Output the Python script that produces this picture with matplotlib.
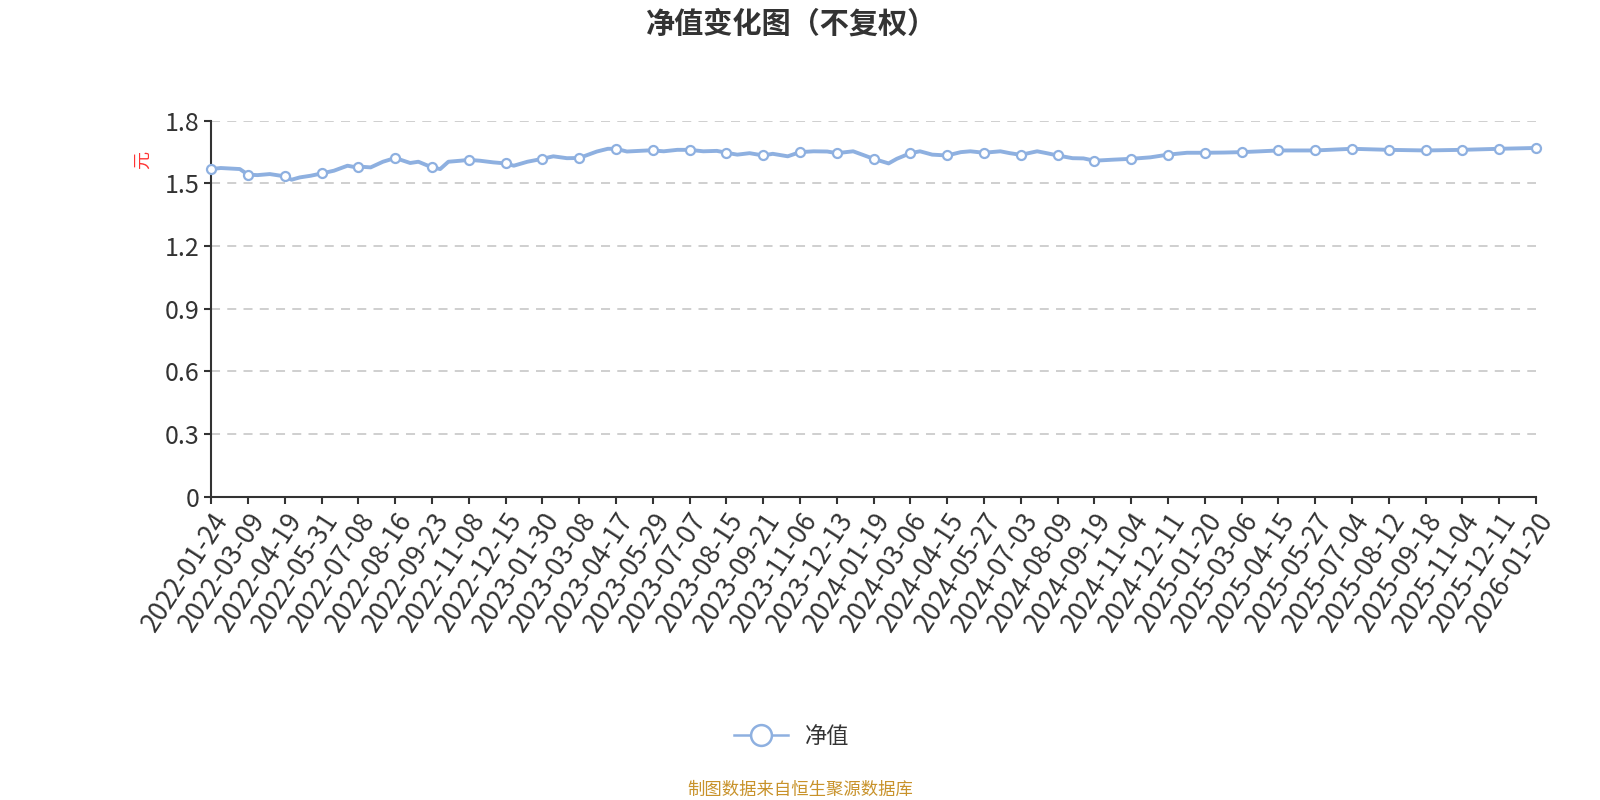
"""净值变化图（不复权）- Nachbau mit matplotlib."""

import matplotlib
import numpy as np

matplotlib.use("Agg")
import matplotlib.pyplot as plt
from matplotlib.lines import Line2D

plt.rcParams["font.family"] = ["Noto Sans CJK SC", "DejaVu Sans"]

# Handelstage zwischen zwei Achsenbeschriftungen
STEP = 27

tick_dates = [
    "2022-01-24", "2022-03-09", "2022-04-19", "2022-05-31", "2022-07-08",
    "2022-08-16", "2022-09-23", "2022-11-08", "2022-12-15", "2023-01-30",
    "2023-03-08", "2023-04-17", "2023-05-29", "2023-07-07", "2023-08-15",
    "2023-09-21", "2023-11-06", "2023-12-13", "2024-01-19", "2024-03-06",
    "2024-04-15", "2024-05-27", "2024-07-03", "2024-08-09", "2024-09-19",
    "2024-11-04", "2024-12-11", "2025-01-20", "2025-03-06", "2025-04-15",
    "2025-05-27", "2025-07-04", "2025-08-12", "2025-09-18", "2025-11-04",
    "2025-12-11", "2026-01-20",
]

# Handelstag-Nummer und Nettowert
day = [
    0, 7, 21, 27, 34, 43, 54, 59, 65, 73, 81, 90, 100, 104, 108, 117, 126, 135,
    146, 152, 162, 168, 174, 183, 189, 197, 207, 216, 222, 232, 243, 251, 261,
    270, 283, 291, 297, 305, 320, 324, 332, 342, 351, 361, 371, 378, 386, 395,
    405, 412, 423, 432, 442, 452, 459, 471, 481, 486, 497, 503, 513, 520, 529,
    540, 550, 557, 567, 579, 586, 594, 606, 613, 621, 632, 640, 648, 662, 675,
    689, 696, 702, 716, 729, 743, 756, 770, 783, 810, 837, 864, 891, 918, 945,
    972,
]
nav = [
    1.569, 1.574, 1.569, 1.542, 1.540, 1.545, 1.534, 1.518, 1.529, 1.537, 1.548,
    1.561, 1.585, 1.580, 1.581, 1.577, 1.604, 1.622, 1.598, 1.604, 1.577, 1.569,
    1.604, 1.609, 1.613, 1.609, 1.601, 1.596, 1.585, 1.604, 1.618, 1.630, 1.621,
    1.622, 1.653, 1.666, 1.666, 1.653, 1.658, 1.658, 1.654, 1.661, 1.661, 1.654,
    1.656, 1.647, 1.638, 1.645, 1.634, 1.642, 1.630, 1.650, 1.654, 1.653, 1.645,
    1.654, 1.630, 1.618, 1.596, 1.618, 1.645, 1.654, 1.638, 1.634, 1.650, 1.654,
    1.647, 1.654, 1.645, 1.637, 1.654, 1.645, 1.634, 1.621, 1.620, 1.609, 1.614,
    1.618, 1.625, 1.632, 1.638, 1.647, 1.647, 1.648, 1.650, 1.654, 1.658, 1.658,
    1.666, 1.661, 1.658, 1.661, 1.666, 1.670,
]

linie_farbe = "#8eb0e0"
achsen_farbe = "#333333"

day = np.array(day)
nav = np.array(nav)
marker_idx = [i for i, d in enumerate(day) if d % STEP == 0]

fig = plt.figure(figsize=(16, 8), dpi=100)
ax = fig.add_axes([0.132, 0.379, 0.828, 0.470])

ax.plot(day, nav, color=linie_farbe, lw=2.8, marker="o", markevery=marker_idx,
        markersize=6.5, markerfacecolor="white", markeredgecolor=linie_farbe,
        markeredgewidth=1.6, solid_joinstyle="round", zorder=3, clip_on=False)

ax.set_xlim(0, STEP * (len(tick_dates) - 1))
ax.set_ylim(0, 1.8)
ax.set_yticks(np.arange(0, 1.81, 0.3))
ax.set_yticklabels(["0", "0.3", "0.6", "0.9", "1.2", "1.5", "1.8"])
ax.set_xticks(np.arange(len(tick_dates)) * STEP)
ax.set_xticklabels(tick_dates, rotation=57, ha="right", rotation_mode="anchor")

ax.grid(axis="y", color="#cccccc", linestyle=(0, (5, 4)), lw=1.3)
ax.set_axisbelow(True)
for s in ["top", "right"]:
    ax.spines[s].set_visible(False)
for s in ["left", "bottom"]:
    ax.spines[s].set_color(achsen_farbe)
    ax.spines[s].set_linewidth(1.5)
ax.tick_params(axis="both", colors=achsen_farbe, labelcolor=achsen_farbe,
               length=5, width=1.5, labelsize=18)
ax.tick_params(axis="x", pad=3, labelsize=19)

ax.set_ylabel("元", color="#ff3333", fontsize=13)
ax.yaxis.set_label_coords(-0.045, 0.895)

fig.text(0.495, 0.97, "净值变化图（不复权）", ha="center", va="center",
         fontsize=21, fontweight="bold", color=achsen_farbe)

handle = Line2D([], [], color=linie_farbe, lw=1.8, marker="o", markersize=15,
                markerfacecolor="white", markeredgecolor=linie_farbe,
                markeredgewidth=1.8)
fig.legend([handle], ["净值"], loc="center", bbox_to_anchor=(0.495, 0.08),
           frameon=False, fontsize=16, handlelength=2.4, labelcolor=achsen_farbe)

fig.text(0.5, 0.013, "制图数据来自恒生聚源数据库", ha="center", va="center",
         fontsize=12.5, color="#c8922a")

fig.savefig("out.png", dpi=100)
